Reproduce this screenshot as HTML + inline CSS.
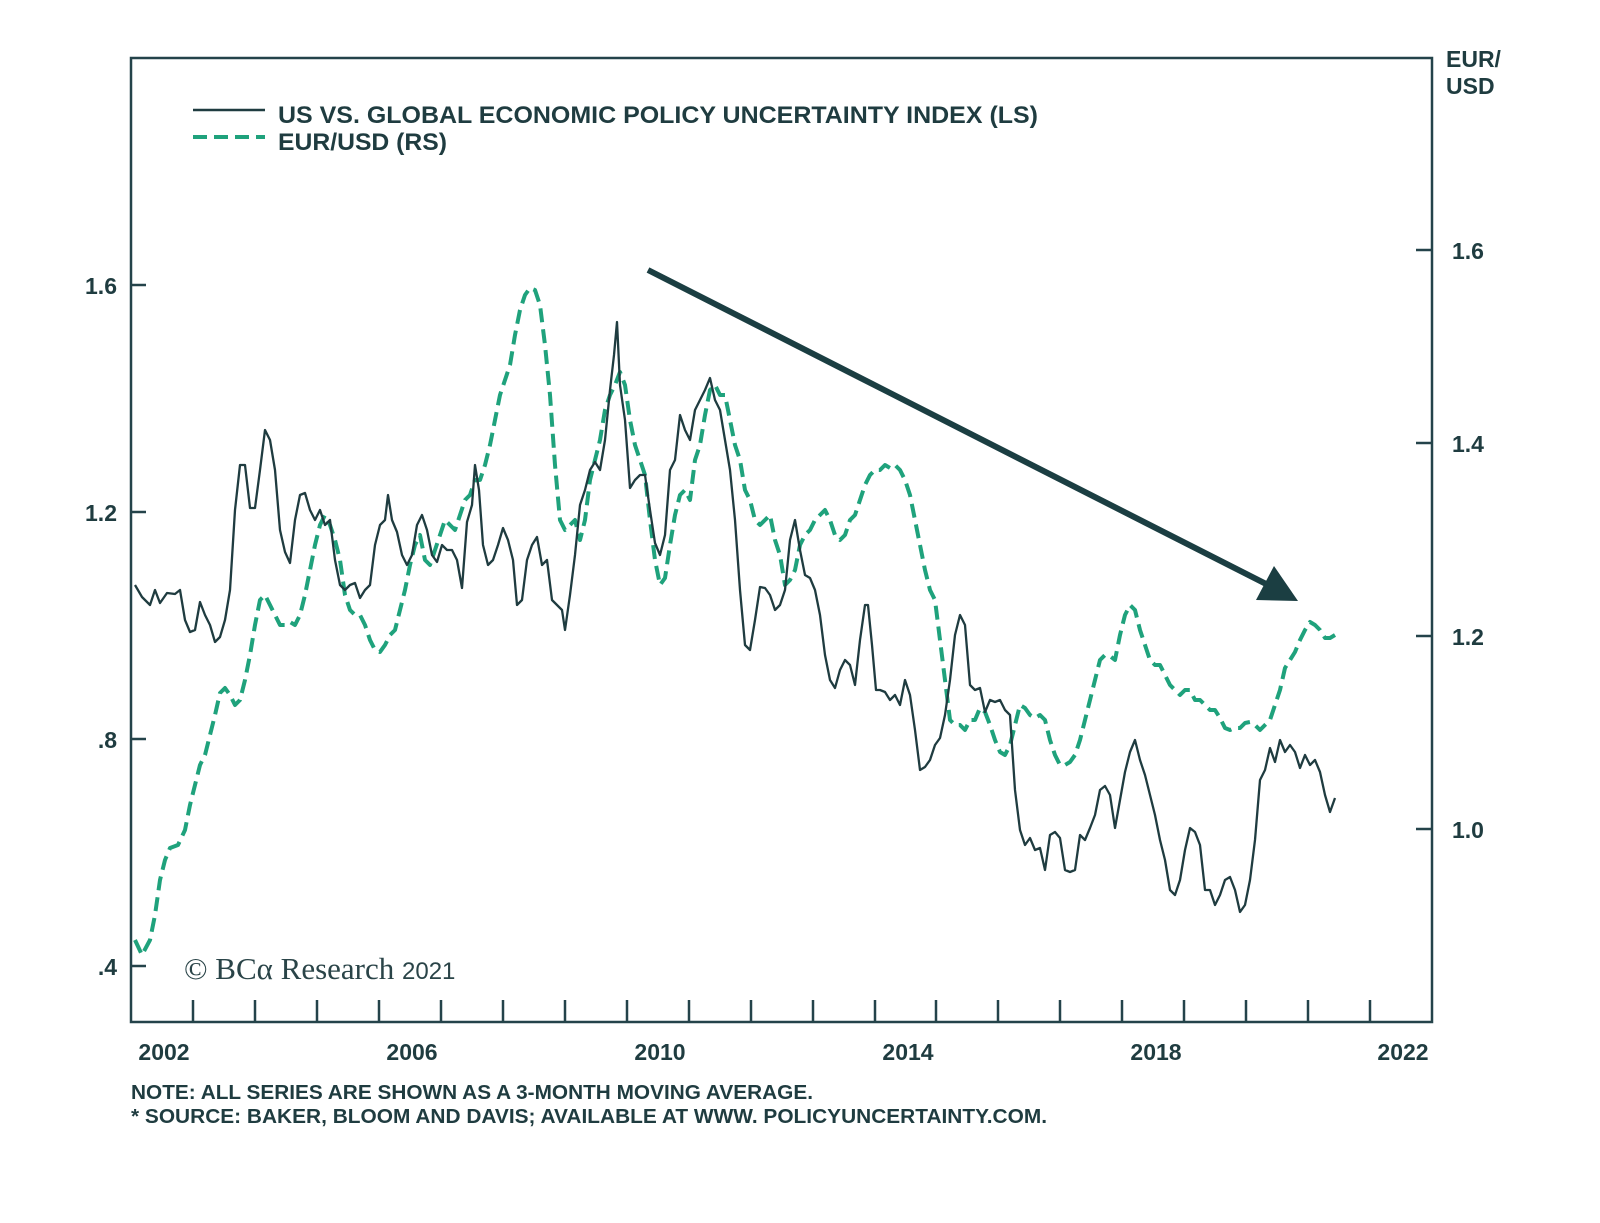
<!DOCTYPE html>
<html><head><meta charset="utf-8"><style>
body{margin:0;background:#fff;}
svg text{font-family:"Liberation Sans",Arial,sans-serif;font-weight:bold;fill:#1f3c40;}
</style></head><body>
<svg width="1600" height="1218" viewBox="0 0 1600 1218" xmlns="http://www.w3.org/2000/svg">
<rect width="1600" height="1218" fill="#fff"/>
<g stroke="#24434a" stroke-width="2.5" fill="none">
<rect x="131" y="58" width="1301" height="964"/>
<path d="M131 285h15M131 512h15M131 739h15M131 966h15"/>
<path d="M1432 250h-16M1432 443h-16M1432 636h-16M1432 829h-16"/>
<path d="M193 1022v-22M255 1022v-22M317 1022v-22M379 1022v-22M441 1022v-22M503 1022v-22M565 1022v-22M627 1022v-22M689 1022v-22M751 1022v-22M813 1022v-22M875 1022v-22M936 1022v-22M998 1022v-22M1060 1022v-22M1122 1022v-22M1184 1022v-22M1246 1022v-22M1308 1022v-22M1370 1022v-22"/>
</g>
<g font-size="23">
<text x="117" y="294" text-anchor="end">1.6</text>
<text x="117" y="521" text-anchor="end">1.2</text>
<text x="117" y="748" text-anchor="end">.8</text>
<text x="117" y="975" text-anchor="end">.4</text>
<text x="1452" y="259">1.6</text>
<text x="1452" y="452">1.4</text>
<text x="1452" y="645">1.2</text>
<text x="1452" y="838">1.0</text>
<text x="1446" y="67">EUR/</text>
<text x="1446" y="94">USD</text>
<text x="164" y="1060" text-anchor="middle">2002</text>
<text x="412" y="1060" text-anchor="middle">2006</text>
<text x="660" y="1060" text-anchor="middle">2010</text>
<text x="908" y="1060" text-anchor="middle">2014</text>
<text x="1156" y="1060" text-anchor="middle">2018</text>
<text x="1403" y="1060" text-anchor="middle">2022</text>
</g>
<g font-size="20">
<text x="131" y="1099" textLength="682" lengthAdjust="spacingAndGlyphs">NOTE: ALL SERIES ARE SHOWN AS A 3-MONTH MOVING AVERAGE.</text>
<text x="131" y="1123" textLength="916" lengthAdjust="spacingAndGlyphs">* SOURCE: BAKER, BLOOM AND DAVIS; AVAILABLE AT WWW. POLICYUNCERTAINTY.COM.</text>
<text x="278" y="123" font-size="24" textLength="760" lengthAdjust="spacingAndGlyphs">US VS. GLOBAL ECONOMIC POLICY UNCERTAINTY INDEX (LS)</text>
<text x="278" y="150" font-size="24" textLength="169" lengthAdjust="spacingAndGlyphs">EUR/USD (RS)</text>
</g>
<text x="184" y="979" style="font-family:'Liberation Serif',serif;font-weight:normal;font-size:31px;fill:#2a4448">© BCα Research <tspan font-size="24" style="font-family:'Liberation Sans',sans-serif;font-weight:normal">2021</tspan></text>
<line x1="193" y1="110" x2="265" y2="110" stroke="#1f3c40" stroke-width="2.5"/>
<line x1="193" y1="137" x2="265" y2="137" stroke="#1fa27c" stroke-width="4" stroke-dasharray="14 7"/>
<polyline fill="none" stroke="#1fa27c" stroke-width="4" stroke-dasharray="14 7" stroke-linejoin="round" points="135,940 142,955 150,940 155,915 160,880 165,860 170,848 178,845 185,830 190,805 195,785 200,765 205,755 210,735 215,715 220,693 225,688 230,695 235,705 240,700 245,680 250,655 255,625 260,600 265,595 270,605 275,615 280,625 285,625 290,622 295,625 300,615 305,595 310,570 315,545 320,525 325,515 330,525 335,540 340,560 345,595 350,610 355,615 360,615 365,625 370,640 375,650 380,652 385,645 390,635 395,630 400,610 405,590 410,565 415,545 420,535 425,560 430,565 435,550 440,535 445,520 450,525 455,530 460,515 465,500 470,495 475,480 480,480 485,465 490,445 495,420 500,395 505,380 510,365 515,335 520,310 525,295 530,288 535,290 540,305 545,345 550,395 555,465 560,520 565,530 570,525 575,520 580,540 585,520 590,480 595,460 600,440 605,410 610,395 615,385 620,372 625,385 630,420 635,445 640,460 645,475 650,520 655,560 660,585 665,578 670,545 675,515 680,495 685,490 690,500 695,460 700,445 705,415 710,390 715,385 720,395 725,395 730,420 735,445 740,460 745,490 750,500 755,520 760,525 765,520 770,515 775,540 780,555 785,585 790,580 795,570 800,545 805,535 810,530 815,520 820,515 825,510 830,520 835,535 840,540 845,535 850,520 855,515 860,500 865,485 870,475 875,470 880,470 885,465 890,468 895,465 900,470 905,480 910,495 915,520 920,545 925,570 930,590 935,600 940,640 945,680 950,720 955,725 960,725 965,730 970,720 975,720 980,708 985,712 990,725 995,740 1000,752 1005,755 1010,745 1015,725 1020,705 1025,708 1030,715 1035,718 1040,715 1045,720 1050,740 1055,755 1060,765 1065,765 1070,762 1075,755 1080,740 1085,720 1090,700 1095,680 1100,660 1105,655 1110,656 1115,660 1120,635 1125,615 1130,605 1135,610 1140,630 1145,645 1150,660 1155,665 1160,665 1165,675 1170,685 1175,690 1180,695 1185,690 1190,690 1195,700 1200,700 1205,705 1210,710 1215,710 1220,718 1225,728 1230,730 1235,728 1240,728 1245,723 1250,722 1255,725 1260,730 1265,725 1270,720 1275,705 1280,690 1285,668 1290,660 1295,652 1300,640 1305,630 1310,622 1315,625 1320,630 1325,638 1330,638 1335,635"/>
<polyline fill="none" stroke="#1f3c40" stroke-width="2.3" stroke-linejoin="round" points="135,585 142,597 150,605 155,590 160,603 167,593 175,594 180,590 185,620 190,632 195,630 200,602 205,615 210,625 215,642 220,637 225,620 230,590 235,510 240,465 245,465 250,508 255,508 260,470 265,430 270,440 275,470 280,530 285,552 290,563 295,520 300,495 305,493 310,510 315,520 320,510 325,525 330,520 335,560 340,585 345,590 350,585 355,583 360,598 365,590 370,585 375,545 380,525 385,520 388,495 392,520 397,532 402,555 407,565 412,555 417,525 422,515 427,530 432,555 437,562 442,545 447,550 452,550 457,560 462,588 467,522 472,505 475,465 479,490 483,545 488,565 493,560 498,545 503,528 508,540 513,560 517,605 522,600 527,560 532,545 537,537 542,565 547,560 552,600 557,605 562,610 565,630 570,595 575,555 580,505 585,490 590,470 595,462 600,470 605,440 610,390 614,355 617,322 620,385 625,420 630,488 635,480 640,475 645,475 650,510 655,543 660,555 665,535 670,470 675,460 680,415 685,430 690,440 695,410 700,400 705,390 710,378 715,400 720,410 725,440 730,470 735,520 740,590 745,645 750,650 755,620 760,587 765,588 770,595 775,610 780,605 785,590 790,540 795,520 800,550 805,575 810,578 815,590 820,615 825,655 830,680 835,688 840,670 845,660 850,665 855,685 860,640 865,605 868,605 872,645 876,690 880,690 885,692 890,700 895,695 900,705 905,680 910,695 915,730 920,770 925,767 930,760 935,745 940,738 945,715 950,680 955,635 960,615 965,625 970,685 975,690 980,688 985,712 990,700 995,702 1000,700 1005,710 1010,715 1015,790 1020,830 1025,845 1030,838 1035,850 1040,848 1045,870 1050,835 1055,832 1060,838 1065,870 1070,872 1075,870 1080,835 1085,840 1090,828 1095,815 1100,790 1105,786 1110,795 1115,828 1120,800 1125,772 1130,752 1135,740 1140,760 1145,775 1150,795 1155,815 1160,840 1165,860 1170,890 1175,895 1180,880 1185,850 1190,828 1195,832 1200,845 1205,890 1210,890 1215,905 1220,895 1225,880 1230,877 1235,890 1240,912 1245,905 1250,880 1255,840 1260,780 1265,770 1270,748 1275,762 1280,740 1285,752 1290,745 1295,752 1300,768 1305,755 1310,765 1315,760 1320,772 1325,795 1330,812 1335,798"/>
<line x1="648" y1="270" x2="1270" y2="586" stroke="#1b3e42" stroke-width="6"/>
<polygon points="1298,601 1256,600 1274,566" fill="#1b3e42"/>
</svg>
</body></html>
